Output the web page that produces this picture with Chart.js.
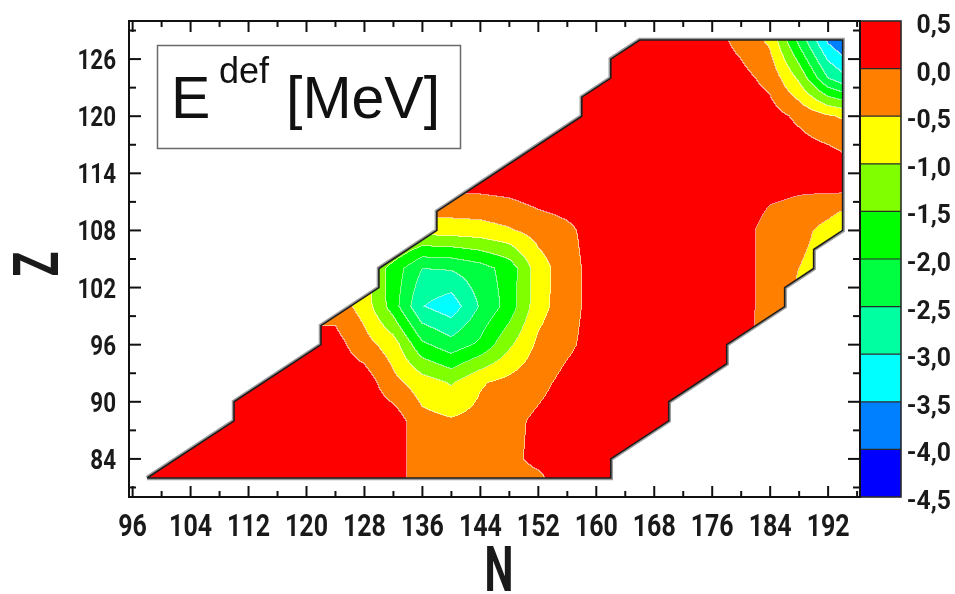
<!DOCTYPE html>
<html>
<head>
<meta charset="utf-8">
<script src="https://cdn.jsdelivr.net/npm/chart.js@4.4.1/dist/chart.umd.min.js"></script>
<style>
  html, body { margin: 0; padding: 0; background: #ffffff; }
  canvas { display: block; }
</style>
</head>
<body>
<canvas id="c" width="955" height="594"></canvas>
<script>
// Grid nodes: neutron number N (columns) and proton number Z (rows)
const gridN = [96, 100, 104, 108, 112, 116, 120, 124, 128, 132, 136, 140, 144, 148, 152, 156, 160, 164, 168, 172, 176, 180, 184, 188, 192, 196];
const gridZ = [80, 84, 88, 92, 96, 100, 104, 108, 112, 116, 120, 124, 128];

// Deformation energy E_def [MeV], one row per Z, one value per N node
const eZ80  = [0.3, 0.3, 0.3, 0.3, 0.3, 0.3, 0.3, 0.3, 0.3, 0.29, -0.35, -0.3, -0.3, -0.3, -0.35, 0.3, 0.3, 0.3, 0.3, 0.3, 0.3, 0.3, 0.3, 0.3, 0.3, 0.3];
const eZ84  = [0.3, 0.3, 0.3, 0.3, 0.3, 0.3, 0.3, 0.3, 0.3, 0.29, -0.35, -0.3, -0.3, -0.15, 0.15, 0.3, 0.3, 0.3, 0.3, 0.3, 0.3, 0.3, 0.3, 0.3, 0.3, 0.3];
const eZ88  = [0.3, 0.3, 0.3, 0.3, 0.3, 0.3, 0.3, 0.3, 0.3, 0.29, -0.35, -0.45, -0.35, -0.15, 0.1, 0.3, 0.3, 0.3, 0.3, 0.3, 0.3, 0.3, 0.3, 0.3, 0.3, 0.3];
const eZ92  = [0.3, 0.3, 0.3, 0.3, 0.3, 0.3, 0.3, 0.3, 0.29, -0.35, -0.75, -1.05, -0.55, -0.35, -0.15, 0.15, 0.3, 0.3, 0.3, 0.3, 0.3, 0.3, 0.3, 0.3, 0.3, 0.3];
const eZ96  = [0.3, 0.3, 0.3, 0.3, 0.3, 0.3, 0.3, 0.2, -0.3, -0.75, -1.9, -2.3, -1.9, -1.1, -0.4, -0.1, 0.2, 0.3, 0.3, 0.3, 0.3, 0.15, -0.2, -0.4, -0.5, -0.6];
const eZ100 = [0.3, 0.3, 0.3, 0.3, 0.3, 0.0, -0.3, -0.2, -0.7, -1.75, -2.98, -3.3, -2.45, -1.8, -0.7, -0.2, 0.2, 0.3, 0.3, 0.3, 0.3, 0.2, -0.2, -0.6, -0.7, -0.9];
const eZ104 = [0.3, 0.3, 0.3, 0.3, 0.3, 0.3, -0.2, -0.5, -0.9, -1.7, -2.5, -2.45, -2.2, -1.8, -0.75, -0.2, 0.2, 0.3, 0.3, 0.3, 0.3, 0.2, -0.2, -0.5, -0.8, -1.0];
const eZ108 = [0.3, 0.3, 0.3, 0.3, 0.3, 0.3, 0.3, 0.3, -0.5, -0.5, -0.8, -0.75, -0.7, -0.55, -0.3, -0.1, 0.2, 0.3, 0.3, 0.3, 0.3, 0.2, -0.2, -0.3, -0.7, -1.4];
const eZ112 = [0.3, 0.3, 0.3, 0.3, 0.3, 0.3, 0.3, 0.3, 0.3, 0.3, 0.05, 0.04, 0.04, 0.1, 0.25, 0.3, 0.3, 0.3, 0.3, 0.3, 0.3, 0.3, 0.1, 0.03, 0.03, 0.03];
const eZ116 = [0.3, 0.3, 0.3, 0.3, 0.3, 0.3, 0.3, 0.3, 0.3, 0.3, 0.3, 0.3, 0.3, 0.3, 0.3, 0.3, 0.3, 0.3, 0.3, 0.3, 0.3, 0.3, 0.3, 0.25, 0.15, -0.1];
const eZ120 = [0.3, 0.3, 0.3, 0.3, 0.3, 0.3, 0.3, 0.3, 0.3, 0.3, 0.3, 0.3, 0.3, 0.3, 0.3, 0.3, 0.3, 0.3, 0.3, 0.3, 0.3, 0.3, 0.2, -0.1, -0.45, -0.65];
const eZ124 = [0.3, 0.3, 0.3, 0.3, 0.3, 0.3, 0.3, 0.3, 0.3, 0.3, 0.3, 0.3, 0.3, 0.3, 0.3, 0.3, 0.3, 0.3, 0.3, 0.3, 0.25, 0.15, -0.15, -1.1, -2.5, -3.2];
const eZ128 = [0.3, 0.3, 0.3, 0.3, 0.3, 0.3, 0.3, 0.3, 0.3, 0.3, 0.3, 0.3, 0.3, 0.3, 0.3, 0.3, 0.3, 0.3, 0.3, 0.3, 0.2, -0.15, -0.6, -2.15, -3.6, -4.3];
const energyRows = [eZ80, eZ84, eZ88, eZ92, eZ96, eZ100, eZ104, eZ108, eZ112, eZ116, eZ120, eZ124, eZ128];

// Boundary of the calculated region of nuclei (N, Z)
const edgeN = [98, 162, 162, 170, 170, 178, 178, 186, 186, 190, 190, 194, 194, 166, 162, 162, 158, 158, 138, 138, 130, 130, 122, 122, 110, 110, 98];
const edgeZ = [82, 82, 84, 88, 90, 94, 96, 100, 102, 104, 106, 108, 128, 128, 126, 124, 122, 120, 110, 108, 104, 102, 98, 96, 90, 88, 82];

// Contour levels (MeV) and fill colours, highest band first
const levels = [0.5, 0.0, -0.5, -1.0, -1.5, -2.0, -2.5, -3.0, -3.5, -4.0, -4.5];
const bandColors = ['#ff0000', '#ff8000', '#ffff00', '#80ff00', '#00ff00', '#00ff40', '#00ffa0', '#00ffff', '#0080ff', '#0000ff'];

// Axis ticks
const xTicks = [96, 100, 104, 108, 112, 116, 120, 124, 128, 132, 136, 140, 144, 148, 152, 156, 160, 164, 168, 172, 176, 180, 184, 188, 192, 196];
const xLabelled = [96, 104, 112, 120, 128, 136, 144, 152, 160, 168, 176, 184, 192];
const yTicks = [81, 84, 87, 90, 93, 96, 99, 102, 105, 108, 111, 114, 117, 120, 123, 126, 129];
const yLabelled = [84, 90, 96, 102, 108, 114, 120, 126];

const labelFont = 'Roboto, "DejaVu Sans", sans-serif';
const plainFont = '"Liberation Sans", Arial, Helvetica, sans-serif';

function insideRegion(n, z) {
  let inside = false;
  for (let i = 0, j = edgeN.length - 1; i < edgeN.length; j = i++) {
    const xi = edgeN[i], yi = edgeZ[i], xj = edgeN[j], yj = edgeZ[j];
    if ((yi > z) !== (yj > z) && n < (xj - xi) * (z - yi) / (yj - yi) + xi) inside = !inside;
  }
  return inside;
}

// Bilinear interpolation of the energy grid
function energyAt(n, z) {
  const dn = gridN[1] - gridN[0], dz = gridZ[1] - gridZ[0];
  let fi = (n - gridN[0]) / dn, fj = (z - gridZ[0]) / dz;
  fi = Math.min(Math.max(fi, 0), gridN.length - 1.000001);
  fj = Math.min(Math.max(fj, 0), gridZ.length - 1.000001);
  const i0 = Math.floor(fi), j0 = Math.floor(fj), tx = fi - i0, ty = fj - j0;
  const a = energyRows[j0], b = energyRows[j0 + 1];
  return (a[i0] * (1 - tx) + a[i0 + 1] * tx) * (1 - ty) + (b[i0] * (1 - tx) + b[i0 + 1] * tx) * ty;
}

function bandOf(v) {
  let k = 0;
  while (k < bandColors.length - 1 && v <= levels[k + 1]) k++;
  return k;
}

function hexToRgb(h) {
  return [parseInt(h.slice(1, 3), 16), parseInt(h.slice(3, 5), 16), parseInt(h.slice(5, 7), 16)];
}

// Filled contour map, rendered pixel by pixel through the chart scales
function drawContours(chart) {
  const area = chart.chartArea;
  const xs = chart.scales.x, ys = chart.scales.y;
  const w = Math.round(area.right - area.left), h = Math.round(area.bottom - area.top);
  const band = new Int8Array(w * h).fill(-1);
  for (let j = 0; j < h; j++) {
    const z = ys.getValueForPixel(area.top + j + 0.5);
    for (let i = 0; i < w; i++) {
      const n = xs.getValueForPixel(area.left + i + 0.5);
      if (!insideRegion(n, z)) continue;
      band[j * w + i] = bandOf(energyAt(n, z));
    }
  }
  const rgb = bandColors.map(hexToRgb);
  const off = document.createElement('canvas');
  off.width = w; off.height = h;
  const octx = off.getContext('2d');
  const img = octx.createImageData(w, h);
  const d = img.data;
  for (let j = 0; j < h; j++) {
    for (let i = 0; i < w; i++) {
      const p = j * w + i, b = band[p];
      if (b < 0) continue;
      let [r, g, bl] = rgb[b];
      const right = i + 1 < w ? band[p + 1] : -1;
      const below = j + 1 < h ? band[p + w] : -1;
      if ((right >= 0 && right !== b) || (below >= 0 && below !== b)) {
        r = Math.round(r + (255 - r) * 0.55);
        g = Math.round(g + (255 - g) * 0.55);
        bl = Math.round(bl + (255 - bl) * 0.55);
      }
      d[p * 4] = r; d[p * 4 + 1] = g; d[p * 4 + 2] = bl; d[p * 4 + 3] = 255;
    }
  }
  octx.putImageData(img, 0, 0);
  chart.ctx.drawImage(off, Math.round(area.left), Math.round(area.top));
}

function line(ctx, x0, y0, x1, y1) {
  ctx.beginPath(); ctx.moveTo(x0, y0); ctx.lineTo(x1, y1); ctx.stroke();
}

// Text squeezed horizontally to a condensed look
function condensedText(ctx, text, x, y, sx, align) {
  ctx.save();
  ctx.translate(x, y);
  ctx.scale(sx, 1);
  ctx.textAlign = align;
  ctx.fillText(text, 0, 0);
  ctx.restore();
}

// Keep the plot area fixed: no extra room for edge labels
function fixScalePadding(s) {
  s.paddingTop = 0; s.paddingBottom = 0; s.paddingLeft = 0; s.paddingRight = 0;
}

const contourPlugin = {
  id: 'contourMap',
  beforeDraw(chart) {
    const ctx = chart.ctx;
    ctx.save();
    ctx.fillStyle = '#ffffff';
    ctx.fillRect(0, 0, chart.width, chart.height);
    ctx.restore();
  },
  afterDatasetDraw(chart, args) {
    if (args.index === 0) drawContours(chart);
  },
  afterDraw(chart) {
    const ctx = chart.ctx, area = chart.chartArea;
    const xs = chart.scales.x, ys = chart.scales.y, cb = chart.scales.cb;
    ctx.save();

    // colour scale
    const cx0 = area.right, cw = 41;
    for (let k = 0; k < bandColors.length; k++) {
      const y0 = cb.getPixelForValue(levels[k]), y1 = cb.getPixelForValue(levels[k + 1]);
      ctx.fillStyle = bandColors[k];
      ctx.fillRect(cx0, y0, cw, y1 - y0);
    }
    ctx.strokeStyle = '#2a2a2a';
    ctx.lineWidth = 1.2;
    for (let k = 1; k < levels.length - 1; k++) {
      const y = cb.getPixelForValue(levels[k]);
      line(ctx, cx0, y, cx0 + cw, y);
    }
    ctx.lineWidth = 1.6;
    ctx.strokeRect(cx0, area.top, cw, area.bottom - area.top);

    // plot frame with inward ticks on all four sides
    ctx.strokeStyle = '#111111';
    ctx.lineWidth = 2;
    ctx.strokeRect(area.left, area.top, area.right - area.left, area.bottom - area.top);
    for (const v of xTicks) {
      const px = xs.getPixelForValue(v);
      const len = xLabelled.includes(v) ? 11 : 6;
      line(ctx, px, area.bottom, px, area.bottom - len);
      line(ctx, px, area.top, px, area.top + len);
    }
    for (const v of yTicks) {
      const py = ys.getPixelForValue(v);
      const len = yLabelled.includes(v) ? 12 : 7;
      line(ctx, area.left, py, area.left + len, py);
      line(ctx, area.right, py, area.right - len, py);
    }

    // tick labels
    ctx.fillStyle = '#1a1a1a';
    ctx.textBaseline = 'alphabetic';
    ctx.font = 'bold 32px ' + labelFont;
    for (const v of xLabelled) condensedText(ctx, String(v), xs.getPixelForValue(v), 536, 0.78, 'center');
    ctx.font = 'bold 28px ' + labelFont;
    for (const v of yLabelled) condensedText(ctx, String(v), 116, ys.getPixelForValue(v) + 10, 0.8, 'right');
    ctx.font = 'bold 26px ' + labelFont;
    for (const v of levels) condensedText(ctx, v.toFixed(1).replace('.', ','), 951, cb.getPixelForValue(v) + 12, 0.95, 'right');

    // axis titles
    ctx.font = 'bold 63px ' + labelFont;
    condensedText(ctx, 'N', 499, 591, 0.65, 'center');
    ctx.save();
    ctx.translate(58, 264);
    ctx.rotate(-Math.PI / 2);
    condensedText(ctx, 'Z', 0, 0, 0.65, 'center');
    ctx.restore();

    // quantity label box
    ctx.fillStyle = '#ffffff';
    ctx.fillRect(157, 45, 304, 104);
    ctx.strokeStyle = '#6a6a6a';
    ctx.lineWidth = 1.5;
    ctx.strokeRect(157.5, 45.5, 303, 103);
    ctx.fillStyle = '#111111';
    ctx.textAlign = 'left';
    ctx.font = '59px ' + plainFont;
    ctx.fillText('E', 171, 118);
    ctx.font = '36px ' + plainFont;
    ctx.fillText('def', 219, 83);
    ctx.font = '59px ' + plainFont;
    ctx.fillText('[MeV]', 286, 118);

    ctx.restore();
  }
};

const outline = edgeN.map((n, i) => ({ x: n, y: edgeZ[i] }));

new Chart(document.getElementById('c'), {
  type: 'scatter',
  data: {
    datasets: [
      { data: outline, showLine: true, borderColor: '#9c9c9c', borderWidth: 4.5, pointRadius: 0, fill: false, tension: 0, borderJoinStyle: 'miter', order: 2 },
      { data: outline, showLine: true, borderColor: '#1e1e1e', borderWidth: 1.6, pointRadius: 0, fill: false, tension: 0, borderJoinStyle: 'miter', order: 1 }
    ]
  },
  options: {
    responsive: false,
    devicePixelRatio: 1,
    animation: false,
    events: [],
    layout: { padding: { top: 21, left: 0, right: 0, bottom: 0 } },
    plugins: { legend: { display: false }, tooltip: { enabled: false } },
    scales: {
      x: {
        type: 'linear', position: 'bottom', min: 95.5, max: 196.4,
        grid: { display: false }, border: { display: false },
        afterBuildTicks: s => { s.ticks = xTicks.map(v => ({ value: v })); },
        afterFit: s => { s.height = 97; fixScalePadding(s); },
        ticks: { display: false, autoSkip: false }
      },
      y: {
        type: 'linear', position: 'left', min: 80, max: 130,
        grid: { display: false }, border: { display: false },
        afterBuildTicks: s => { s.ticks = yTicks.map(v => ({ value: v })); },
        afterFit: s => { s.width = 129; fixScalePadding(s); },
        ticks: { display: false, autoSkip: false }
      },
      cb: {
        type: 'linear', position: 'right', min: -4.5, max: 0.5,
        grid: { display: false }, border: { display: false },
        afterBuildTicks: s => { s.ticks = levels.map(v => ({ value: v })); },
        afterFit: s => { s.width = 95; fixScalePadding(s); },
        ticks: { display: false, autoSkip: false }
      }
    }
  },
  plugins: [contourPlugin]
});
</script>
</body>
</html>
